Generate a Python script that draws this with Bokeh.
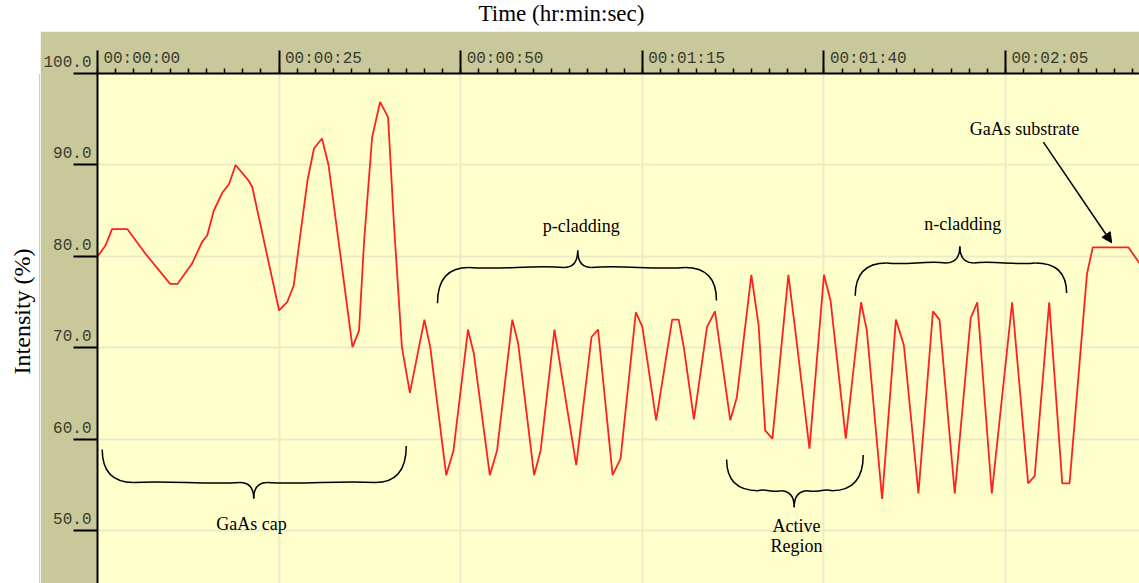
import numpy as np
from bokeh.plotting import figure
from bokeh.models import Range1d, LinearAxis, FixedTicker, Arrow, NormalHead
from bokeh.layouts import column, row
from bokeh.embed import file_html
from bokeh.resources import INLINE
from bokeh.core.properties import value

# ---------------- data ----------------
time_s = [0.0, 1.1, 2.0, 4.1, 6.6, 10.0, 11.0, 13.0, 14.4, 15.1, 16.0, 17.2, 18.1, 19.0,
          20.8, 21.3, 25.0, 26.1, 27.0, 28.9, 29.8, 30.9, 31.8, 35.1, 36.0, 36.7, 37.8,
          38.9, 40.0, 40.8, 41.9, 43.0, 45.0, 45.8, 48.0, 49.0, 51.0, 51.8, 54.0, 55.0,
          57.1, 57.9, 60.1, 61.0, 62.9, 65.9, 68.0, 68.9, 70.9, 72.0, 74.1, 75.0, 76.9,
          79.1, 80.0, 80.7, 82.1, 83.9, 85.0, 87.1, 88.0, 90.0, 91.0, 91.9, 92.9, 95.1,
          96.1, 98.0, 100.0, 100.9, 103.0, 105.1, 105.9, 108.0, 109.9, 111.0, 113.0,
          115.0, 115.9, 118.0, 120.2, 121.1, 123.1, 125.9, 128.1, 129.0, 131.0, 132.8,
          133.8, 136.2, 137.0, 141.9, 143.4]
intensity = [80.0, 81.2, 83.0, 83.0, 80.3, 77.0, 77.0, 79.2, 81.6, 82.3, 85.0, 87.0, 87.9, 90.0,
             88.3, 87.6, 74.1, 75.0, 76.8, 88.3, 91.8, 92.9, 90.0, 70.1, 71.9, 81.7, 93.0,
             96.9, 95.2, 83.6, 70.1, 65.1, 73.1, 70.1, 56.1, 58.8, 72.0, 69.4, 56.1, 58.8,
             73.1, 70.5, 56.1, 58.8, 72.0, 57.2, 71.2, 72.0, 56.1, 57.9, 73.9, 72.3, 62.1,
             73.1, 73.1, 70.1, 62.2, 72.3, 74.0, 62.1, 64.6, 78.0, 72.5, 61.0, 60.1, 78.0,
             71.6, 59.0, 78.0, 75.2, 60.1, 75.0, 71.9, 53.5, 73.1, 70.3, 54.1,
             74.0, 73.1, 54.1, 73.3, 75.0, 54.1, 75.0, 55.2, 56.0, 75.0, 55.2,
             55.2, 78.1, 81.0, 81.0, 79.3]

x_ticks = [0, 25, 50, 75, 100, 125]
x_tick_labels = ["00:00:00", "00:00:25", "00:00:50", "00:01:15", "00:01:40", "00:02:05"]
y_ticks = [50, 60, 70, 80, 90, 100]
y_tick_labels = ["50.0", "60.0", "70.0", "80.0", "90.0", "100.0"]

# braces: start/end time, end heights, flat height, tip position
brace_t0 = [0.65, 46.8, 86.6, 104.3]
brace_t1 = [42.5, 85.2, 105.4, 133.4]
brace_yl = [58.9, 74.9, 57.8, 75.7]
brace_yr = [59.3, 75.2, 58.3, 76.0]
brace_ym = [55.3, 78.8, 54.4, 79.3]
brace_tc = [21.5, 66.1, 95.9, 118.7]
brace_yt = [53.55, 80.66, 52.6, 81.1]

label_text = ["GaAs cap", "p-cladding", "Active", "Region", "n-cladding", "GaAs substrate"]
label_t = [21.2, 66.6, 96.2, 96.2, 119.1, 127.6]
label_v = [50.8, 83.3, 50.5, 48.4, 83.6, 93.9]

arrow_start = (130.2, 92.5)
arrow_end = (139.6, 81.5)

# ---------------- layout constants ----------------
XMAX = 143.43
YMIN, YMAX = 44.26, 100.0
XSHIFT = 6.1     # label offset (s) so the time label sits right of its tick
OLIVE = "#c8c89b"
MONO = "Liberation Mono"
SERIF = "Liberation Serif"
LABEL_COLOR = "#3a3a2c"

p = figure(width=1099, height=552, x_range=Range1d(0, XMAX), y_range=Range1d(YMIN, YMAX),
           x_axis_location="above", output_backend="svg", toolbar_location=None,
           min_border_left=57, min_border_top=42, min_border_right=0, min_border_bottom=0,
           background_fill_color="#ffffcc", border_fill_color=OLIVE)
p.outline_line_color = None

minor = list(np.arange(0, XMAX, 2.5))
# tick-only top axis
xa = p.xaxis[0]
xa.ticker = FixedTicker(ticks=x_ticks, minor_ticks=minor)
xa.major_tick_out = 23
xa.major_tick_in = 0
xa.minor_tick_out = 5
xa.minor_tick_in = 0
xa.axis_line_width = 2
xa.major_tick_line_width = 2
xa.minor_tick_line_width = 1.5
xa.axis_line_color = "black"
xa.major_tick_line_color = "black"
xa.minor_tick_line_color = "black"
xa.major_label_text_font_size = "0px"
xa.major_label_text_color = None
xa.major_label_standoff = 0

# left axis: ticks plus labels (an empty second line lifts each label above its tick)
ya = p.yaxis[0]
ya.ticker = FixedTicker(ticks=y_ticks, minor_ticks=[])
ya.major_tick_out = 24
ya.major_tick_in = 0
ya.axis_line_width = 2
ya.major_tick_line_width = 2
ya.axis_line_color = "black"
ya.major_tick_line_color = "black"
ya.major_label_overrides = {t: lab + "\n " for t, lab in zip(y_ticks, y_tick_labels)}
ya.major_label_text_font = MONO
ya.major_label_text_font_size = "16px"
ya.major_label_text_color = LABEL_COLOR
ya.major_label_standoff = -18

# label-only top axis on a shifted range
p.extra_x_ranges = {"xlab": Range1d(-XSHIFT, XMAX - XSHIFT)}
xl = LinearAxis(x_range_name="xlab", ticker=FixedTicker(ticks=x_ticks, minor_ticks=[]),
                major_label_overrides=dict(zip(x_ticks, x_tick_labels)),
                axis_line_color=None, major_tick_line_color=None, minor_tick_line_color=None,
                major_tick_out=0, major_tick_in=0, minor_tick_out=0, minor_tick_in=0,
                major_label_standoff=-17, major_label_text_font=MONO,
                major_label_text_font_size="16px", major_label_text_color=LABEL_COLOR)
p.add_layout(xl, "above")

p.xgrid.grid_line_color = "#ecebc6"
p.ygrid.grid_line_color = "#ecebc6"
p.xgrid.grid_line_width = 2
p.ygrid.grid_line_width = 2

# curve
p.line(time_s, intensity, line_color="#ff2020", line_width=1.8)

# braces
bx0, by0, bx1, by1, bcx0, bcy0, bcx1, bcy1 = ([] for _ in range(8))
CW, TW = 4.3, 1.9


def add_seg(P0, C0, C1, P1):
    bx0.append(P0[0]); by0.append(P0[1])
    bcx0.append(C0[0]); bcy0.append(C0[1])
    bcx1.append(C1[0]); bcy1.append(C1[1])
    bx1.append(P1[0]); by1.append(P1[1])


for t0, t1, ylft, yrgt, ym, tc, yt in zip(brace_t0, brace_t1, brace_yl, brace_yr,
                                          brace_ym, brace_tc, brace_yt):
    d = yt - ym
    add_seg((t0, ylft), (t0, ylft + 0.65 * (ym - ylft)), (t0 + 0.3 * CW, ym), (t0 + CW, ym))
    a, b = t0 + CW, tc - TW
    L = b - a
    add_seg((a, ym), (a + L / 3, ym - 0.15 * d), (a + 2 * L / 3, ym + 0.15 * d), (b, ym))
    add_seg((b, ym), (tc - 0.3 * TW, ym), (tc, ym + 0.35 * d), (tc, yt))
    add_seg((tc, yt), (tc, ym + 0.35 * d), (tc + 0.3 * TW, ym), (tc + TW, ym))
    a, b = tc + TW, t1 - CW
    L = b - a
    add_seg((a, ym), (a + L / 3, ym + 0.15 * d), (a + 2 * L / 3, ym - 0.15 * d), (b, ym))
    add_seg((b, ym), (t1 - 0.3 * CW, ym), (t1, yrgt + 0.65 * (ym - yrgt)), (t1, yrgt))

p.bezier(x0=bx0, y0=by0, x1=bx1, y1=by1, cx0=bcx0, cy0=bcy0, cx1=bcx1, cy1=bcy1,
         line_color="black", line_width=1.5)

p.text(x=label_t, y=label_v, text=label_text, text_font=value(SERIF),
       text_font_size="18px", text_align="center", text_baseline="middle",
       text_color="black")

p.add_layout(Arrow(end=NormalHead(size=10, fill_color="black", line_color="black"),
                   x_start=arrow_start[0], y_start=arrow_start[1],
                   x_end=arrow_end[0], y_end=arrow_end[1],
                   line_color="black", line_width=1.5))

# top strip with the time title
pt = figure(width=1139, height=31, x_range=Range1d(0, 1139), y_range=Range1d(0, 31),
            x_axis_type=None, y_axis_type=None, output_backend="svg", toolbar_location=None,
            min_border_left=0, min_border_right=0, min_border_top=0, min_border_bottom=0,
            background_fill_color="white", border_fill_color="white")
pt.outline_line_color = None
pt.grid.visible = False
pt.text(x=[561], y=[18.5], text=["Time (hr:min:sec)"], text_font=value(SERIF),
        text_font_size="23px", text_align="center", text_baseline="middle",
        text_color="black")

# left strip with the intensity title
pl = figure(width=40, height=552, x_range=Range1d(0, 40), y_range=Range1d(0, 552),
            x_axis_type=None, y_axis_type=None, output_backend="svg", toolbar_location=None,
            min_border_left=0, min_border_right=0, min_border_top=0, min_border_bottom=0,
            background_fill_color="white", border_fill_color="white")
pl.outline_line_color = None
pl.grid.visible = False
pl.text(x=[21], y=[294.5], text=["Intensity (%)"], text_font=value(SERIF),
        text_font_size="24px", text_align="center", text_baseline="middle",
        angle=np.pi / 2, text_color="black")
pl.segment(x0=[39.5], y0=[0], x1=[39.5], y1=[552], line_color="#8c94d4", line_width=1)

layout = column(pt, row(pl, p, spacing=0), spacing=0)
open("out.html", "w").write(file_html(layout, INLINE))
